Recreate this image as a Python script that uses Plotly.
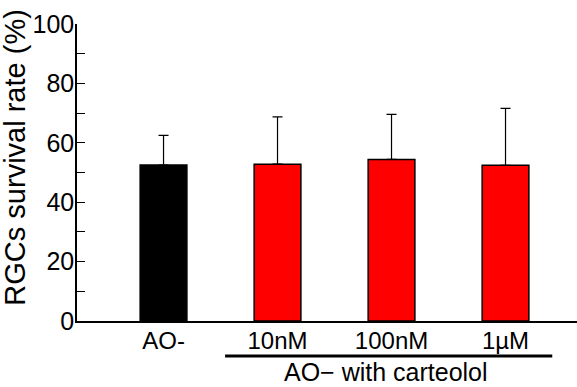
import plotly.graph_objects as go

categories = ["AO-", "10nM", "100nM", "1µM"]
means = [52.5, 52.8, 54.4, 52.4]
errors_up = [10.0, 15.9, 15.2, 19.2]
bar_colors = ["#000000", "#ff0000", "#ff0000", "#ff0000"]
group_label = "AO− with carteolol"
y_title = "RGCs survival rate (%)"

FONT = "Liberation Sans, Arial, sans-serif"

fig = go.Figure()
fig.add_trace(go.Bar(
    x=list(range(len(categories))),
    y=means,
    width=0.41,
    marker=dict(color=bar_colors, line=dict(color="black", width=1.5)),
    error_y=dict(type="data", symmetric=False, array=errors_up,
                 arrayminus=[0] * len(means), color="black",
                 thickness=1.2, width=5),
    showlegend=False,
))

fig.update_layout(
    width=577, height=387,
    margin=dict(l=77, r=0, t=24, b=66, autoexpand=False),
    plot_bgcolor="white", paper_bgcolor="white",
    font=dict(family=FONT, color="black", size=24),
    xaxis=dict(
        range=[-0.759, 3.627],
        tickvals=list(range(len(categories))),
        ticktext=categories,
        showline=True, linecolor="black", linewidth=1.5,
        ticks="", showgrid=False, zeroline=False,
        tickfont=dict(size=24, family=FONT),
        ticklabelstandoff=-3,
    ),
    yaxis=dict(
        range=[0, 100],
        dtick=20, tick0=0,
        showline=True, linecolor="black", linewidth=1.5,
        ticks="inside", ticklen=8, tickwidth=1.2, tickcolor="black",
        minor=dict(dtick=10, ticks="inside", ticklen=8, tickwidth=1.2, tickcolor="black"),
        showgrid=False, zeroline=False,
        tickfont=dict(size=25, family=FONT),
        ticklabelstandoff=-4,
    ),
)

fig.add_shape(type="line", xref="x", yref="paper",
              x0=0.54, x1=3.41, y0=-0.118, y1=-0.118,
              line=dict(color="black", width=3))
fig.add_annotation(xref="x", yref="paper", x=1.95, y=-0.2215,
                   text=group_label, showarrow=False,
                   font=dict(size=25, family=FONT), yanchor="bottom",
                   borderpad=0)
fig.add_annotation(xref="paper", yref="paper", x=-0.124, y=0.55,
                   text=y_title, textangle=-90, showarrow=False,
                   font=dict(size=29, family=FONT),
                   xanchor="center", yanchor="middle")

fig.write_html("out.html", config={"displayModeBar": False},
               post_script="document.body.style.margin='0';document.body.style.padding='0';")
